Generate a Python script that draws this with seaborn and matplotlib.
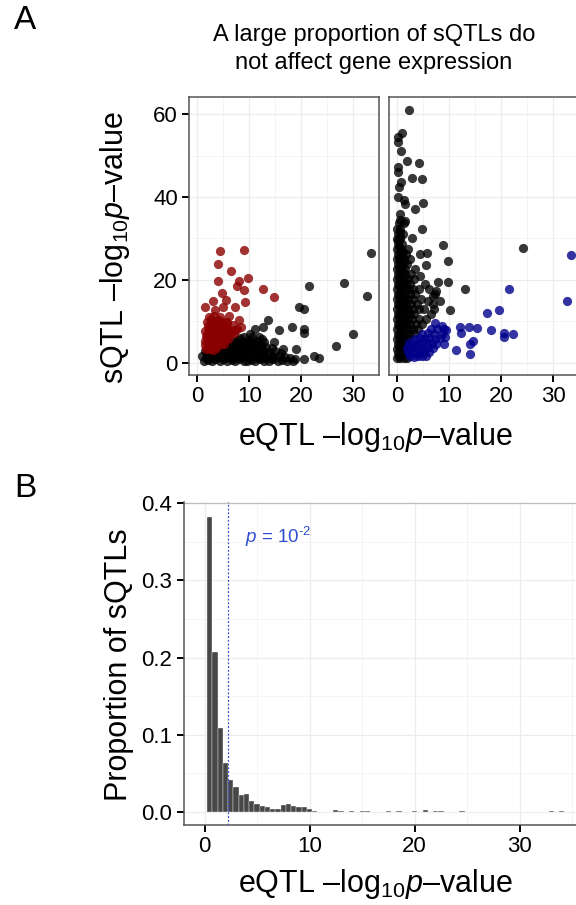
#!/usr/bin/env python3
"""sQTL vs eQTL p-values: scatter panels (A) and eQTL p-value histogram (B)."""

import matplotlib
matplotlib.use('Agg')
import matplotlib.pyplot as plt
import pandas as pd
import seaborn as sns

# ---- data ----
# Panel A, left facet: black = other sQTLs, red = highlighted
LEFT_BLACK = [
    (1.2, 0.4), (2.0, 0.7), (2.8, 0.3), (3.5, 0.8), (4.3, 0.5), (5.0, 0.9), (5.8, 0.3),
    (6.6, 0.6), (7.3, 0.4), (8.1, 0.8), (8.9, 0.5), (9.6, 0.3), (10.4, 0.7), (11.2, 0.4),
    (12.0, 0.9), (12.9, 0.5), (13.8, 0.3), (14.6, 0.8), (15.5, 0.5), (16.4, 0.7), (17.3, 0.4),
    (1.6, 1.1), (2.4, 1.2), (3.9, 1.3), (5.4, 1.1), (6.9, 1.2), (8.5, 1.3), (10.0, 1.1),
    (11.6, 1.2), (13.1, 1.0), (14.2, 1.2), (17.8, 1.0), (18.4, 0.5),
    (1.0, 1.6), (1.8, 1.9), (2.6, 1.5), (3.3, 2.0), (4.1, 1.7), (4.9, 1.5), (5.6, 1.9),
    (6.4, 1.6), (7.2, 2.0), (8.0, 1.5), (8.7, 1.8), (9.5, 1.6), (10.3, 2.0), (11.1, 1.5),
    (12.0, 1.8), (12.8, 1.6), (13.6, 1.9), (14.5, 1.5), (15.7, 1.7), (16.8, 1.4),
    (1.4, 2.7), (2.2, 2.9), (3.0, 2.6), (3.9, 2.8), (4.7, 2.5), (5.5, 3.0), (6.3, 2.7),
    (7.1, 2.9), (7.9, 2.5), (8.6, 2.8), (9.4, 2.6), (10.2, 3.0), (11.0, 2.7), (11.8, 2.5),
    (12.7, 2.9), (13.9, 2.6), (15.0, 2.8), (16.2, 2.4),
    (4.2, 3.3), (5.9, 3.5), (7.5, 3.4), (9.1, 3.3), (10.8, 3.5), (12.4, 3.4), (14.3, 3.6),
    (4.5, 3.9), (5.4, 4.2), (6.2, 3.8), (7.0, 4.1), (7.8, 3.9), (8.7, 4.3), (9.5, 3.8),
    (10.4, 4.1), (11.3, 3.9), (12.2, 4.2), (13.2, 3.8),
    (6.3, 4.7), (7.4, 4.8), (8.3, 4.6), (10.0, 4.8), (11.0, 4.6), (12.9, 4.9),
    (6.8, 5.2), (7.9, 5.4), (8.8, 5.0), (9.7, 5.5), (10.6, 5.1), (11.6, 5.3),
    (8.2, 6.0), (9.0, 6.3), (10.2, 6.8), (11.8, 6.1), (12.4, 5.6),
    (33.5, 26.4), (28.3, 19.2), (32.7, 16.2), (21.5, 18.6), (19.6, 13.5), (20.6, 13.0),
    (30.0, 7.0), (26.8, 4.0), (18.2, 8.7), (20.5, 8.0), (20.5, 7.1), (15.8, 7.9),
    (13.7, 10.3), (12.6, 8.7), (11.1, 8.1), (19.1, 3.2), (18.8, 0.8), (20.5, 0.8),
    (22.5, 1.7), (23.5, 1.0), (10.5, 6.3), (9.5, 4.7), (14.8, 5.0), (16.5, 3.3),
]
LEFT_RED = [
    (1.6, 3.2), (2.4, 3.4), (3.1, 3.1), (3.6, 3.6),
    (1.5, 4.2), (2.3, 4.4), (3.0, 4.1), (3.8, 4.3), (4.5, 4.6), (5.2, 4.5),
    (1.4, 5.3), (2.2, 5.5), (3.0, 5.2), (3.7, 5.4), (4.4, 5.3), (5.2, 5.6), (6.0, 5.8),
    (1.9, 6.0), (2.8, 6.1), (4.6, 6.0), (5.5, 6.2),
    (1.7, 6.5), (2.5, 6.7), (3.3, 6.4), (4.1, 6.6), (4.9, 6.5), (5.7, 6.8), (6.5, 6.9),
    (2.0, 7.1), (3.6, 7.2), (5.2, 7.1), (7.0, 7.2),
    (1.5, 7.6), (2.3, 7.8), (3.1, 7.5), (3.9, 7.7), (4.7, 7.6), (5.5, 7.9), (6.4, 7.6),
    (7.3, 7.8), (2.0, 8.8), (2.9, 9.0), (3.6, 8.7), (4.5, 8.9), (5.3, 8.8), (6.8, 9.1),
    (2.5, 8.3), (4.1, 8.3), (6.0, 8.4),
    (1.8, 9.9), (2.7, 10.1), (3.5, 9.8), (4.4, 10.0), (5.6, 9.9),
    (2.2, 11.0), (3.2, 11.2), (4.3, 11.0), (6.1, 11.3),
    (4.4, 27.0), (9.0, 27.2), (3.9, 23.8), (6.4, 22.2), (4.0, 19.7), (9.7, 20.5),
    (8.0, 19.7), (7.7, 18.6), (9.0, 17.6), (12.6, 17.8), (14.8, 15.9), (4.8, 16.9),
    (5.5, 15.1), (9.2, 14.6), (3.0, 14.9), (1.5, 13.5), (5.0, 13.5), (7.3, 13.5),
    (3.4, 12.7), (2.6, 10.5), (4.0, 10.3), (5.8, 9.7), (8.0, 10.3), (8.5, 8.5), (7.6, 8.1),
]

# Panel A, right facet: black = other sQTLs, blue = highlighted
RIGHT_BLACK = [
    (0.0, 1.0), (0.6, 1.0), (1.2, 1.0), (1.9, 1.0), (0.1, 2.2), (0.8, 2.2), (1.5, 2.2),
    (0.0, 3.4), (0.7, 3.4), (1.3, 3.4), (2.0, 3.4), (0.2, 4.6), (0.9, 4.6), (1.6, 4.6),
    (0.0, 5.8), (0.6, 5.8), (1.3, 5.8), (2.1, 5.8),
    (0.1, 7.0), (0.8, 7.0), (1.5, 7.0), (2.3, 7.0), (3.2, 7.0),
    (0.0, 8.2), (0.7, 8.2), (1.4, 8.2), (2.2, 8.2), (3.0, 8.2), (3.9, 8.2),
    (0.2, 9.4), (0.9, 9.4), (1.7, 9.4), (2.5, 9.4), (3.6, 9.4), (4.8, 9.4),
    (0.0, 10.6), (0.6, 10.6), (1.3, 10.6), (2.0, 10.6), (2.9, 10.6), (4.1, 10.6), (5.6, 10.6),
    (0.1, 11.8), (0.8, 11.8), (1.6, 11.8), (2.4, 11.8), (3.3, 11.8), (6.4, 11.8),
    (0.0, 13.0), (0.7, 13.0), (1.4, 13.0), (2.1, 13.0), (3.0, 13.0), (4.2, 13.0), (5.2, 13.0),
    (0.2, 14.2), (0.9, 14.2), (1.7, 14.2), (2.6, 14.2), (3.8, 14.2), (6.9, 14.2),
    (0.0, 15.4), (0.6, 15.4), (1.3, 15.4), (2.0, 15.4), (3.1, 15.4), (4.6, 15.4),
    (0.1, 16.6), (0.8, 16.6), (1.5, 16.6), (2.4, 16.6), (3.5, 16.6), (7.2, 16.6),
    (0.0, 17.8), (0.7, 17.8), (1.4, 17.8), (2.2, 17.8), (3.0, 17.8), (4.1, 17.8), (6.1, 17.8),
    (0.2, 19.0), (0.9, 19.0), (1.6, 19.0), (2.5, 19.0), (5.3, 19.0),
    (0.0, 20.2), (0.6, 20.2), (1.3, 20.2), (2.1, 20.2), (3.2, 20.2),
    (0.1, 21.4), (0.8, 21.4), (1.5, 21.4), (2.6, 21.4),
    (0.0, 22.6), (0.7, 22.6), (1.4, 22.6), (3.5, 22.6),
    (0.2, 23.8), (0.9, 23.8), (1.8, 23.8), (0.0, 25.0), (0.6, 25.0), (1.3, 25.0), (2.4, 25.0),
    (0.1, 26.2), (0.8, 26.2), (1.6, 26.2), (0.0, 27.4), (0.7, 27.4), (2.0, 27.4),
    (0.2, 28.6), (1.0, 28.6), (0.0, 29.8), (0.6, 29.8), (0.1, 31.0), (1.1, 31.0),
    (0.0, 32.4), (0.5, 32.4), (0.3, 33.8), (1.3, 33.8),
    (0.4, 1.6), (1.0, 2.8), (0.3, 4.0), (1.1, 5.2), (0.4, 6.4), (1.1, 7.6), (0.4, 8.8),
    (1.2, 10.0), (0.4, 11.2), (1.1, 12.4), (0.4, 13.6), (1.2, 14.8), (0.3, 16.0),
    (1.1, 17.2), (0.4, 18.4), (1.2, 19.6), (0.3, 20.8), (1.1, 22.0), (0.4, 23.2),
    (1.2, 24.4), (0.3, 25.6), (1.1, 26.8), (0.4, 28.0), (0.6, 30.4),
    (2.3, 61.0), (1.0, 55.6), (0.1, 54.6), (0.2, 53.4), (0.8, 51.1), (1.8, 48.8),
    (4.2, 48.2), (0.2, 47.3), (0.1, 46.0), (2.8, 44.5), (4.7, 44.4), (0.7, 43.7),
    (0.3, 42.5), (0.2, 40.1), (1.2, 39.3), (1.5, 38.3), (5.0, 38.6), (3.4, 37.1),
    (0.5, 34.4), (0.5, 36.0), (1.5, 34.3), (4.8, 32.2), (0.5, 31.6), (0.2, 29.6),
    (2.8, 30.2), (8.8, 28.4), (24.2, 27.7), (9.8, 24.6), (4.4, 26.3), (5.7, 26.4),
    (7.9, 19.6), (9.7, 19.4), (13.0, 17.7), (6.9, 16.2), (8.2, 15.0), (7.5, 17.3),
    (10.1, 12.6), (6.0, 14.8), (7.0, 12.9), (4.3, 21.0), (5.5, 23.5),
]
RIGHT_BLUE = [
    (2.4, 1.5), (3.2, 1.4), (4.0, 1.6), (4.8, 1.5), (5.6, 1.7),
    (2.0, 2.5), (2.8, 2.6), (3.6, 2.4), (4.4, 2.5), (5.2, 2.7), (6.1, 2.5),
    (1.8, 3.6), (2.6, 3.5), (3.4, 3.7), (4.2, 3.6), (5.0, 3.5), (5.9, 3.8), (6.8, 3.6),
    (2.2, 4.7), (3.1, 4.8), (4.0, 4.6), (4.8, 4.9), (5.7, 4.7), (6.6, 4.8), (7.5, 4.6),
    (3.4, 5.8), (4.4, 5.9), (5.3, 5.7), (6.2, 6.0), (7.2, 5.8), (8.3, 5.9),
    (4.8, 6.9), (5.9, 7.1), (7.0, 6.8), (8.6, 7.0), (6.4, 8.0), (7.6, 8.2), (8.9, 8.0),
    (33.4, 26.0), (32.7, 15.0), (21.5, 17.9), (19.6, 12.7), (17.2, 11.9), (18.1, 7.9),
    (20.5, 7.1), (20.5, 6.3), (22.3, 6.9), (15.3, 8.3), (13.8, 8.7), (12.1, 8.7),
    (12.3, 7.1), (14.6, 5.3), (14.0, 4.5), (11.3, 3.1), (14.0, 2.1), (9.2, 6.2),
    (9.4, 7.8), (7.2, 9.5), (8.6, 8.8), (9.0, 4.5),
]

# Panel B: histogram bins (centre, proportion of sQTLs), bin width 0.5
HIST_CENTERS = [0.5, 1.0, 1.5, 2.0, 2.5, 3.0, 3.5, 4.0, 4.5, 5.0, 5.5, 6.0, 6.5, 7.0,
                7.5, 8.0, 8.5, 9.0, 9.5, 10.0, 10.5, 12.5, 13.0, 14.0, 15.0, 15.5,
                17.5, 18.5, 20.0, 21.0, 22.0, 22.5, 24.5, 33.0, 34.0]
HIST_PROPS = [0.382, 0.207, 0.109, 0.064, 0.041, 0.032, 0.022, 0.024, 0.014, 0.010,
              0.008, 0.0065, 0.0035, 0.0035, 0.0095, 0.011, 0.008, 0.0065, 0.006, 0.004,
              0.0015, 0.002, 0.0012, 0.0012, 0.0012, 0.0012, 0.0012, 0.0012, 0.0012,
              0.002, 0.0012, 0.0012, 0.0012, 0.0012, 0.0012]
P_THRESHOLD = 2.2

SCATTER_XTICKS = [0, 10, 20, 30]
SCATTER_YTICKS = [0, 20, 40, 60]
HIST_XTICKS = [0, 10, 20, 30]
HIST_YTICKS = [0.0, 0.1, 0.2, 0.3, 0.4]

# ---- style ----
sns.set_theme(style='white')
plt.rcParams['font.family'] = ['Liberation Sans', 'DejaVu Sans']
plt.rcParams['mathtext.fontset'] = 'custom'
plt.rcParams['mathtext.rm'] = 'Liberation Sans'
plt.rcParams['mathtext.it'] = 'Liberation Sans:italic'
plt.rcParams['mathtext.sf'] = 'Liberation Sans'
plt.rcParams['text.color'] = 'black'
plt.rcParams['axes.labelcolor'] = 'black'

GRID = '#f2f2f2'
FRAME = '#555555'
TICK_FS = 16
LABEL_FS = 22
EQTL_LABEL = 'eQTL \u2013log$_{10}$$\\mathit{p}$\u2013value'
SQTL_LABEL = 'sQTL \u2013log$_{10}$$\\mathit{p}$\u2013value'


def style_ticks(ax):
    ax.tick_params(axis='both', which='major', direction='out', length=5, width=1.4,
                   color='black', labelsize=TICK_FS, labelcolor='black', pad=3,
                   bottom=True, left=True)


def draw_grid(ax, xminor, yminor):
    for v in xminor:
        ax.axvline(v, color=GRID, lw=0.6, zorder=0)
    for v in yminor:
        ax.axhline(v, color=GRID, lw=0.6, zorder=0)
    ax.grid(True, color='#ececec', lw=0.9, zorder=0)
    ax.set_axisbelow(True)


fig = plt.figure(figsize=(5.76, 9.05), dpi=100)
W, H = 576.0, 905.0

ax_l = fig.add_axes([189 / W, (H - 375) / H, 190 / W, 278 / H])
ax_r = fig.add_axes([389 / W, (H - 375) / H, 190 / W, 278 / H])

facets = [
    (ax_l, LEFT_BLACK, LEFT_RED, '#8b0000'),
    (ax_r, RIGHT_BLACK, RIGHT_BLUE, '#00008b'),
]
for ax, black, hi, hi_color in facets:
    bdf = pd.DataFrame(black, columns=['eqtl', 'sqtl'])
    hdf = pd.DataFrame(hi, columns=['eqtl', 'sqtl'])
    sns.scatterplot(data=bdf, x='eqtl', y='sqtl', color='black', alpha=0.78,
                    s=44, linewidth=0, ax=ax, zorder=3)
    sns.scatterplot(data=hdf, x='eqtl', y='sqtl', color=hi_color, alpha=0.8,
                    s=44, linewidth=0, ax=ax, zorder=4)
    ax.set_xlim(-1.6, 35.0)
    ax.set_ylim(-3.0, 64.2)
    ax.set_xticks(SCATTER_XTICKS)
    ax.set_yticks(SCATTER_YTICKS)
    draw_grid(ax, [5, 15, 25], [10, 30, 50])
    for sp in ax.spines.values():
        sp.set_visible(True)
        sp.set_color(FRAME)
        sp.set_linewidth(1.1)
    style_ticks(ax)
    ax.set_xlabel('')
    ax.set_ylabel('')

ax_r.tick_params(axis='y', left=False, labelleft=False)

fig.text(115 / W, 1 - 247 / H, SQTL_LABEL, ha='center', va='center', rotation=90,
         fontsize=LABEL_FS)
fig.text(375 / W, 1 - 437 / H, EQTL_LABEL, ha='center', va='center', fontsize=LABEL_FS)
fig.text(374 / W, 1 - 49 / H, 'A large proportion of sQTLs do\nnot affect gene expression',
         ha='center', va='center', fontsize=17, linespacing=1.3)
fig.text(14 / W, 1 - 5 / H, 'A', ha='left', va='top', fontsize=24)
fig.text(14 / W, 1 - 473 / H, 'B', ha='left', va='top', fontsize=24)

# ---- panel B ----
ax_b = fig.add_axes([183.5 / W, (H - 825) / H, 393 / W, 323 / H])
sns.histplot(x=HIST_CENTERS, weights=HIST_PROPS, binwidth=0.5, binrange=(0.25, 34.25),
             color='#474747', alpha=1.0, edgecolor='white', linewidth=0.25,
             ax=ax_b, zorder=3)
ax_b.axvline(P_THRESHOLD, color='#3050d8', ls=(0, (1.5, 1.5)), lw=0.9, zorder=4)
ax_b.text(3.9, 0.356, '$\\mathit{p}$ = 10$^{\u2010\\mathrm{2}}$', color='#2f4fd0',
          fontsize=13.5, ha='left', va='center')
ax_b.set_xlim(-2.0, 35.4)
ax_b.set_ylim(-0.0168, 0.4017)
ax_b.set_xticks(HIST_XTICKS)
ax_b.set_yticks(HIST_YTICKS)
ax_b.set_yticklabels([f'{v:.1f}' for v in HIST_YTICKS])
draw_grid(ax_b, [5, 15, 25, 35], [0.05, 0.15, 0.25, 0.35])
ax_b.axhline(0.4, color='#bdbdbd', lw=0.9, zorder=1)
for name, sp in ax_b.spines.items():
    if name in ('left', 'bottom'):
        sp.set_visible(True)
        sp.set_color(FRAME)
        sp.set_linewidth(1.1)
    else:
        sp.set_visible(False)
style_ticks(ax_b)
ax_b.set_xlabel('')
ax_b.set_ylabel('')
fig.text(375 / W, 1 - 884 / H, EQTL_LABEL, ha='center', va='center', fontsize=LABEL_FS)
fig.text(119 / W, 1 - 665 / H, 'Proportion of sQTLs', ha='center', va='center',
         rotation=90, fontsize=LABEL_FS)

fig.savefig('out.png', dpi=100)
plt.close(fig)
